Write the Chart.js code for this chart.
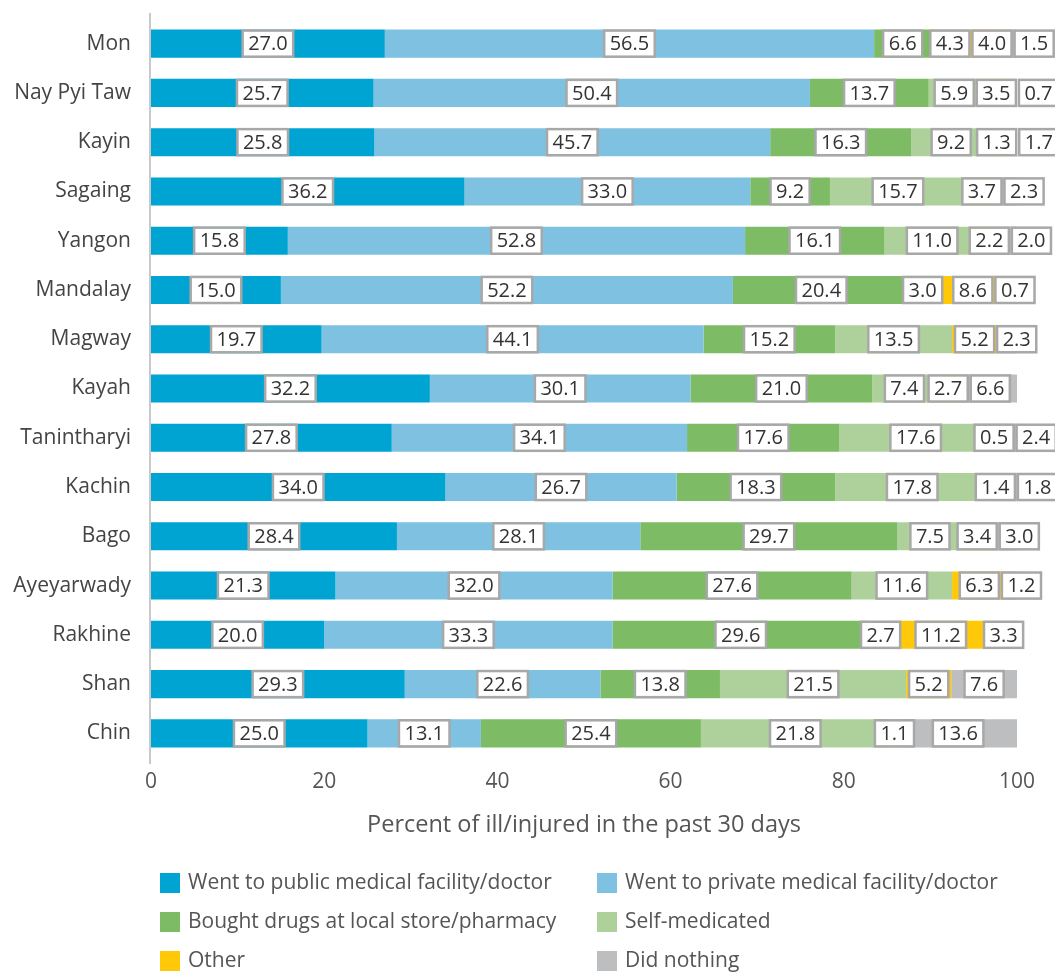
<!DOCTYPE html>
<html lang="en">
<head>
<meta charset="utf-8">
<title>Treatment sought when ill or injured, by state/region</title>
<script src="https://cdn.jsdelivr.net/npm/chart.js@4.4.0/dist/chart.umd.min.js"></script>
<style>
  html, body { margin: 0; padding: 0; background: #fff; }
  #wrap { position: relative; width: 1055px; height: 972px; }
</style>
</head>
<body>
<div id="wrap"><canvas id="myChart"></canvas></div>
<script>
// states / regions, top to bottom
var regions = ["Mon", "Nay Pyi Taw", "Kayin", "Sagaing", "Yangon", "Mandalay", "Magway", "Kayah",
               "Tanintharyi", "Kachin", "Bago", "Ayeyarwady", "Rakhine", "Shan", "Chin"];

var seriesNames = [
  "Went to public medical facility/doctor",
  "Went to private medical facility/doctor",
  "Bought drugs at local store/pharmacy",
  "Self-medicated",
  "Other",
  "Did nothing"
];

var publicFacility  = [27.0, 25.7, 25.8, 36.2, 15.8, 15.0, 19.7, 32.2, 27.8, 34.0, 28.4, 21.3, 20.0, 29.3, 25.0];
var privateFacility = [56.5, 50.4, 45.7, 33.0, 52.8, 52.2, 44.1, 30.1, 34.1, 26.7, 28.1, 32.0, 33.3, 22.6, 13.1];
var boughtDrugs     = [6.6, 13.7, 16.3, 9.2, 16.1, 20.4, 15.2, 21.0, 17.6, 18.3, 29.7, 27.6, 29.6, 13.8, 25.4];
var selfMedicated   = [4.3, 5.9, 9.2, 15.7, 11.0, 3.0, 13.5, 7.4, 17.6, 17.8, 7.5, 11.6, 2.7, 21.5, 21.8];
var other           = [4.0, 3.5, 1.3, 3.7, 2.2, 8.6, 5.2, 2.7, 0.5, 1.4, 3.4, 6.3, 11.2, 5.2, 1.1];
var didNothing      = [1.5, 0.7, 1.7, 2.3, 2.0, 0.7, 2.3, 6.6, 2.4, 1.8, 3.0, 1.2, 3.3, 7.6, 13.6];

var xTicks = [0, 20, 40, 60, 80, 100];

var colours = ["#00a4d3", "#7fc1e1", "#7dbb65", "#aed19c", "#ffc90a", "#bdbec0"];
var seriesData = [publicFacility, privateFacility, boughtDrugs, selfMedicated, other, didNothing];

var FONT = '"Open Sans", "DejaVu Sans", sans-serif';

// left axis line, running a little past the plot area
var axisLine = {
  id: "axisLine",
  beforeDatasetsDraw: function (chart) {
    var ctx = chart.ctx, a = chart.chartArea;
    ctx.save();
    ctx.strokeStyle = "#c9c9c9";
    ctx.lineWidth = 2;
    ctx.beginPath();
    ctx.moveTo(a.left - 1, a.top - 6);
    ctx.lineTo(a.left - 1, a.bottom + 6);
    ctx.stroke();
    ctx.restore();
  }
};

// value labels in white boxes, nudged right so they never overlap
var boxLabels = {
  id: "boxLabels",
  afterDatasetsDraw: function (chart) {
    var ctx = chart.ctx;
    ctx.save();
    ctx.font = "20px " + FONT;
    ctx.textAlign = "center";
    ctx.textBaseline = "middle";
    regions.forEach(function (r, i) {
      var prevRight = -Infinity;
      chart.data.datasets.forEach(function (ds, d) {
        var bar = chart.getDatasetMeta(d).data[i];
        var text = ds.data[i].toFixed(1);
        var w = ctx.measureText(text).width + 11;
        var h = bar.height - 2;
        var cx = (bar.x + bar.base) / 2;
        cx = Math.max(cx, prevRight + 3 + w / 2);
        prevRight = cx + w / 2;
        ctx.fillStyle = "#fff";
        ctx.fillRect(cx - w / 2, bar.y - h / 2, w, h);
        ctx.strokeStyle = "#a8a8a8";
        ctx.lineWidth = 2.5;
        ctx.strokeRect(cx - w / 2, bar.y - h / 2, w, h);
        ctx.fillStyle = "#333";
        ctx.fillText(text, cx, bar.y + 1);
      });
    });
    ctx.restore();
  }
};

// two-column legend under the axis title
var gridLegend = {
  id: "gridLegend",
  afterDraw: function (chart) {
    var ctx = chart.ctx;
    var colX = [160, 597];
    var rowY = [883, 922, 961];
    ctx.save();
    ctx.font = "21px " + FONT;
    ctx.textAlign = "left";
    ctx.textBaseline = "middle";
    chart.data.datasets.forEach(function (ds, d) {
      var x = colX[d % 2], y = rowY[Math.floor(d / 2)];
      ctx.fillStyle = ds.backgroundColor;
      ctx.fillRect(x, y - 10, 20, 20);
      ctx.fillStyle = "#555";
      ctx.fillText(ds.label, x + 28, y);
    });
    ctx.restore();
  }
};

new Chart("myChart", {
  type: "bar",
  data: {
    labels: regions,
    datasets: seriesNames.map(function (name, k) {
      return {
        label: name,
        data: seriesData[k],
        backgroundColor: colours[k],
        borderWidth: 0,
        barPercentage: 0.57,
        categoryPercentage: 1.0
      };
    })
  },
  options: {
    indexAxis: "y",
    responsive: true,
    maintainAspectRatio: false,
    animation: false,
    layout: { padding: { top: 19, right: 38, bottom: 126, left: 0 } },
    plugins: {
      legend: { display: false },
      tooltip: { enabled: false }
    },
    scales: {
      x: {
        stacked: true,
        min: 0,
        max: 100,
        afterBuildTicks: function (scale) {
          scale.ticks = xTicks.map(function (v) { return { value: v }; });
        },
        afterFit: function (scale) {
          scale.height = 88;
          scale.paddingLeft = 0;
          scale.paddingRight = 0;
        },
        grid: { display: false, drawTicks: false },
        border: { display: false },
        ticks: { padding: 11, color: "#555", font: { family: FONT, size: 21 } },
        title: {
          display: true,
          text: "Percent of ill/injured in the past 30 days",
          color: "#555",
          font: { family: FONT, size: 23.5 },
          padding: { top: 0, bottom: 7 }
        }
      },
      y: {
        stacked: true,
        afterFit: function (scale) {
          scale.width = 151;
          scale.paddingTop = 0;
          scale.paddingBottom = 0;
        },
        grid: { display: false, drawTicks: false },
        border: { display: false },
        ticks: { padding: 20, color: "#444", font: { family: FONT, size: 21 } }
      }
    }
  },
  plugins: [axisLine, boxLabels, gridLegend]
});
</script>
</body>
</html>
